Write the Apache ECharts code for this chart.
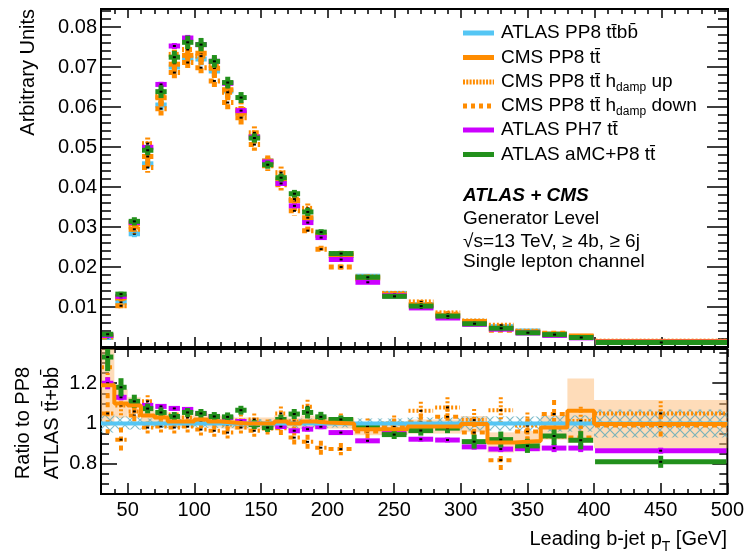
<!DOCTYPE html>
<html><head><meta charset="utf-8">
<script src="https://cdn.jsdelivr.net/npm/echarts@6/dist/echarts.min.js"></script>
<style>html,body{margin:0;padding:0;background:#fff}#c{width:747px;height:557px}</style>
</head><body><div id="c"></div>
<script>
// ---------------- data ----------------
const binEdges = [30,40,50,60,70,80,90,100,110,120,130,140,150,160,170,180,190,200,220,240,260,280,300,320,340,360,380,400,500];
const xTicksMajor = [50,100,150,200,250,300,350,400,450,500];
const yTicksTop = [0.01,0.02,0.03,0.04,0.05,0.06,0.07,0.08];
const yTicksRatio = [0.8,1,1.2];

// upper panel: normalised distributions
const topPP8  = [0.0024,0.0112,0.0283,0.0458,0.0605,0.0700,0.0722,0.0720,0.0690,0.0640,0.0585,0.0525,0.0465,0.0415,0.0366,0.0320,0.0278,0.0229,0.0177,0.0134,0.0106,0.0079,0.0064,0.0051,0.0040,0.0033,0.0026,0.0014];
const topCMS  = [0.00286,0.01232,0.03085,0.04763,0.06232,0.0707,0.07292,0.07344,0.06969,0.06432,0.0585,0.0525,0.0465,0.04192,0.0366,0.03232,0.02794,0.0229,0.0172,0.01302,0.01044,0.00778,0.00638,0.00462,0.00365,0.00323,0.00276,0.0014];
const topUp   = [0.00307,0.01221,0.0300,0.05084,0.06262,0.07315,0.07437,0.07272,0.07038,0.06368,0.05938,0.05355,0.04604,0.04358,0.03697,0.03466,0.02822,0.02336,0.01752,0.0134,0.01127,0.00853,0.00651,0.00544,0.00396,0.00309,0.00263,0.00147];
const topDown = [0.00252,0.0103,0.02943,0.04488,0.05959,0.0686,0.07112,0.06984,0.06652,0.06112,0.05733,0.05061,0.04534,0.04055,0.03404,0.02909,0.02446,0.01999,0.01699,0.0132,0.01065,0.00816,0.00611,0.00417,0.00384,0.00346,0.00242,0.00139];
const topPH7  = [0.00288,0.01266,0.03113,0.04992,0.06564,0.07525,0.07725,0.0756,0.07142,0.06592,0.05909,0.0525,0.04627,0.04088,0.03528,0.0311,0.02736,0.02187,0.01618,0.0128,0.00977,0.00725,0.00566,0.00445,0.0035,0.0029,0.00228,0.00121];
const topAMC  = [0.00319,0.01322,0.03141,0.04919,0.06383,0.07245,0.07617,0.0756,0.07142,0.06611,0.06236,0.05224,0.04557,0.04233,0.03832,0.03376,0.02872,0.02336,0.01743,0.01266,0.01023,0.00772,0.00582,0.00469,0.00356,0.0031,0.00238,0.00113];

// lower panel: ratio to ATLAS PP8 tt+bb
const ratioPP8  = [1,1,1,1,1,1,1,1,1,1,1,1,1,1,1,1,1,1,1,1,1,1,1,1,1,1,1,1];
const ratioCMS  = [1.19,1.10,1.09,1.04,1.03,1.01,1.01,1.02,1.01,1.005,1.0,1.0,1.0,1.01,1.0,1.01,1.005,1.0,0.972,0.972,0.985,0.985,0.997,0.906,0.913,0.98,1.063,0.997];
const ratioUp   = [1.28,1.09,1.06,1.11,1.035,1.045,1.03,1.01,1.02,0.995,1.015,1.02,0.99,1.05,1.01,1.083,1.015,1.02,0.99,1.0,1.063,1.08,1.017,1.066,0.99,0.935,1.013,1.05];
const ratioDown = [1.05,0.92,1.04,0.98,0.985,0.98,0.985,0.97,0.964,0.955,0.98,0.964,0.975,0.977,0.93,0.909,0.88,0.873,0.96,0.985,1.005,1.033,0.955,0.818,0.96,1.047,0.93,0.99];
const ratioPH7  = [1.20,1.13,1.10,1.09,1.085,1.075,1.07,1.05,1.035,1.03,1.01,1.0,0.995,0.985,0.964,0.972,0.984,0.955,0.914,0.955,0.922,0.918,0.884,0.873,0.875,0.878,0.878,0.865];
const ratioAMC  = [1.33,1.18,1.11,1.074,1.055,1.035,1.055,1.05,1.035,1.033,1.066,0.995,0.98,1.02,1.047,1.055,1.033,1.02,0.985,0.945,0.965,0.977,0.91,0.92,0.889,0.938,0.917,0.81];

// uncertainties (ratio units)
const errPP8  = [0.045,0.035,0.03,0.025,0.022,0.022,0.022,0.022,0.022,0.022,0.022,0.022,0.022,0.022,0.022,0.025,0.025,0.02,0.025,0.025,0.03,0.03,0.035,0.035,0.035,0.04,0.04,0.07];
const errCMS  = [0.2,0.07,0.04,0.035,0.03,0.03,0.03,0.03,0.03,0.03,0.03,0.03,0.03,0.03,0.03,0.03,0.03,0.025,0.03,0.03,0.035,0.035,0.04,0.05,0.05,0.06,0.16,0.12];
const errUp   = [0.1,0.06,0.04,0.03,0.03,0.03,0.03,0.03,0.03,0.03,0.03,0.03,0.03,0.035,0.035,0.035,0.035,0.03,0.035,0.04,0.045,0.05,0.055,0.065,0.065,0.07,0.07,0.06];
const errDown = [0.1,0.06,0.04,0.03,0.03,0.03,0.03,0.03,0.03,0.03,0.03,0.03,0.03,0.035,0.035,0.035,0.035,0.03,0.035,0.04,0.045,0.05,0.055,0.065,0.065,0.07,0.07,0.06];
const errPH7  = [0.03,0.015,0.012,0.01,0.01,0.01,0.01,0.01,0.01,0.01,0.01,0.01,0.01,0.01,0.01,0.012,0.012,0.01,0.01,0.012,0.012,0.012,0.014,0.015,0.016,0.02,0.02,0.015];
const errAMC  = [0.07,0.045,0.033,0.025,0.025,0.022,0.022,0.022,0.022,0.022,0.022,0.022,0.022,0.024,0.025,0.03,0.025,0.02,0.022,0.022,0.025,0.025,0.035,0.04,0.035,0.045,0.045,0.03];

const legendNames = ['ATLAS PP8 tt\u0304bb\u0304','CMS PP8 tt\u0304','CMS PP8 tt\u0304 h{sub|damp} up','CMS PP8 tt\u0304 h{sub|damp} down','ATLAS PH7 tt\u0304','ATLAS aMC+P8 tt\u0304'];
const infoLines = ['Generator Level','\u221As=13 TeV, \u2265 4b, \u2265 6j','Single lepton channel'];

// ---------------- styling ----------------
const FONT = "'Liberation Sans', Arial, Helvetica, sans-serif";
const C_BLUE='#55c6f4', C_OR='#ff8c00', C_PU='#cc00ff', C_GR='#22901c';
const DOT=[2,2], DASH=[5,4];

function rowsTop(vals, errs){ return vals.map((v,i)=>[binEdges[i],binEdges[i+1],v,v*errs[i]]); }
function rowsRatio(vals, errs){ return vals.map((v,i)=>[binEdges[i],binEdges[i+1],v,errs[i]]); }
function stepData(vals){ return binEdges.map((e,i)=>[e, vals[Math.min(i, vals.length-1)]]); }

function crossRender(color, width, dash, dot){
  return function(params, api){
    const cs=params.coordSys, top=cs.y, bot=cs.y+cs.height;
    const cl=y=>Math.max(top,Math.min(bot,y));
    const lo=api.value(0), hi=api.value(1), v=api.value(2), e=api.value(3), xm=(lo+hi)/2;
    const a=api.coord([lo,v]), b=api.coord([hi,v]);
    const t=api.coord([xm,v+e]), u=api.coord([xm,v-e]);
    const ch=[];
    if(a[1]>=top && a[1]<=bot){
      ch.push({type:'line',shape:{x1:a[0]+1,y1:a[1],x2:b[0]-1,y2:b[1]},style:{stroke:color,lineWidth:width,lineDash:dash||null,lineCap:'butt'}});
    }
    const y1=cl(t[1]), y2=cl(u[1]);
    if(y2>y1) ch.push({type:'line',shape:{x1:t[0],y1:y1,x2:t[0],y2:y2},style:{stroke:color,lineWidth:width,lineDash:dash||null,lineCap:'butt'}});
    if(dot && a[1]>=top && a[1]<=bot) ch.push({type:'rect',shape:{x:(a[0]+b[0])/2-1.5,y:a[1]-1,width:3,height:2},style:{fill:'#000'}});
    return {type:'group',children:ch};
  };
}
function bandRender(fill){
  return function(params, api){
    const cs=params.coordSys, top=cs.y, bot=cs.y+cs.height;
    const cl=y=>Math.max(top,Math.min(bot,y));
    const lo=api.value(0), hi=api.value(1), v=api.value(2), e=api.value(3);
    const p=api.coord([lo,v+e]), q=api.coord([hi,v-e]);
    const y1=cl(p[1]), y2=cl(q[1]);
    if(y2<=y1) return null;
    return {type:'rect',shape:{x:p[0],y:y1,width:q[0]-p[0],height:y2-y1},style:{fill:fill}};
  };
}

const hatch=document.createElement('canvas'); hatch.width=10; hatch.height=10;
(function(){const g=hatch.getContext('2d'); g.strokeStyle='rgba(80,165,185,0.75)'; g.lineWidth=1.2;
 g.beginPath(); g.moveTo(0,0); g.lineTo(10,10); g.moveTo(10,0); g.lineTo(0,10); g.stroke();})();

function xAx(grid, pos, len, opts){
  return Object.assign({gridIndex:grid,type:'value',min:30,max:500,position:pos,
    axisLine:{show:false,onZero:false},splitLine:{show:false},axisLabel:{show:false},
    axisTick:{show:true,inside:true,length:len,lineStyle:{color:'#000',width:1.5}}},opts);
}
function yAx(grid, pos, min, max, len, opts){
  return Object.assign({gridIndex:grid,type:'value',min:min,max:max,position:pos,
    axisLine:{show:false,onZero:false},splitLine:{show:false},axisLabel:{show:false},
    axisTick:{show:true,inside:true,length:len,lineStyle:{color:'#000',width:1.5}}},opts);
}
function majX(grid,pos,len,label){
  const o=xAx(grid,pos,len,{});
  o.axisTick.customValues=xTicksMajor;
  if(label){ o.axisLabel={show:true,customValues:xTicksMajor,fontSize:20,fontFamily:FONT,color:'#000',margin:6}; }
  return o;
}
function minX(grid,pos,len){ return xAx(grid,pos,len,{interval:10}); }
function majY(grid,pos,min,max,len,ticks,label){
  const o=yAx(grid,pos,min,max,len,{});
  o.axisTick.customValues=ticks;
  if(label){ o.axisLabel={show:true,customValues:ticks,fontSize:20,fontFamily:FONT,color:'#000',margin:4}; }
  return o;
}
function minY(grid,pos,min,max,len,iv){ return yAx(grid,pos,min,max,len,{interval:iv}); }

const TMIN=0, TMAX=0.0845, RMIN=0.65, RMAX=1.37;

const xAxis=[
  majX(0,'bottom',10,false), minX(0,'bottom',5), majX(0,'top',9,false), minX(0,'top',5),
  majX(1,'bottom',11,true), minX(1,'bottom',5), majX(1,'top',8,false), minX(1,'top',4)
];
const yAxis=[
  majY(0,'left',TMIN,TMAX,20,yTicksTop,true), minY(0,'left',TMIN,TMAX,10,0.002),
  majY(0,'right',TMIN,TMAX,21,yTicksTop,false), minY(0,'right',TMIN,TMAX,10,0.002),
  majY(1,'left',RMIN,RMAX,16,yTicksRatio,true), minY(1,'left',RMIN,RMAX,8,0.05),
  majY(1,'right',RMIN,RMAX,15,yTicksRatio,false), minY(1,'right',RMIN,RMAX,8,0.05)
];

function cust(name, xi, yi, data, render){
  return {type:'custom',name:name,xAxisIndex:xi,yAxisIndex:yi,data:data,renderItem:render,silent:true,animation:false};
}
const series=[
  cust('pp8',0,0,rowsTop(topPP8,errPP8),crossRender(C_BLUE,5,null,true)),
  cust('cms',0,0,rowsTop(topCMS,errCMS),crossRender(C_OR,5,null,true)),
  cust('up',0,0,rowsTop(topUp,errUp),crossRender(C_OR,5,DOT,true)),
  cust('down',0,0,rowsTop(topDown,errDown),crossRender(C_OR,5,DASH,true)),
  cust('ph7',0,0,rowsTop(topPH7,errPH7),crossRender(C_PU,5,null,true)),
  cust('amc',0,0,rowsTop(topAMC,errAMC),crossRender(C_GR,5,null,true)),

  cust('cmsBand',4,4,rowsRatio(ratioCMS,errCMS),bandRender('rgba(253,185,115,0.5)')),
  cust('pp8Band',4,4,rowsRatio(ratioPP8,errPP8),bandRender({image:hatch,repeat:'repeat'})),
  {type:'line',xAxisIndex:4,yAxisIndex:4,data:stepData(ratioPP8),step:'end',showSymbol:false,silent:true,animation:false,lineStyle:{color:C_BLUE,width:4}},
  {type:'line',xAxisIndex:4,yAxisIndex:4,data:stepData(ratioCMS),step:'end',showSymbol:false,silent:true,animation:false,lineStyle:{color:C_OR,width:4}},
  cust('downR',4,4,rowsRatio(ratioDown,errDown),crossRender(C_OR,4,DASH,true)),
  cust('upR',4,4,rowsRatio(ratioUp,errUp),crossRender(C_OR,4,DOT,true)),
  cust('ph7R',4,4,rowsRatio(ratioPH7,errPH7),crossRender(C_PU,5,null,true)),
  cust('amcR',4,4,rowsRatio(ratioAMC,errAMC),crossRender(C_GR,5,null,true))
];

// legend + texts as graphics
const legColors=[C_BLUE,C_OR,C_OR,C_OR,C_PU,C_GR];
const legDash=[null,null,[2,1.3],[4,4],null,null];
const legY=[33,57.5,82,106,130,154.5];
const graphic=[];
legendNames.forEach((n,i)=>{
  graphic.push({type:'line',silent:true,shape:{x1:463,y1:legY[i],x2:494,y2:legY[i]},style:{stroke:legColors[i],lineWidth:5,lineDash:legDash[i],lineCap:'butt'}});
  graphic.push({type:'text',silent:true,x:501,y:legY[i],style:{text:n,fontSize:19,fontFamily:FONT,fill:'#000',verticalAlign:'middle',align:'left',lineHeight:24,
    rich:{sub:{fontSize:12,fontFamily:FONT,lineHeight:12,verticalAlign:'bottom',fill:'#000'}}}});
});
graphic.push({type:'text',silent:true,x:463,y:196,style:{text:'ATLAS + CMS',fontSize:19,fontWeight:'bold',fontStyle:'italic',fontFamily:FONT,fill:'#000',verticalAlign:'middle'}});
const infoY=[219,241.5,262];
infoLines.forEach((t,i)=>graphic.push({type:'text',silent:true,x:463,y:infoY[i],style:{text:t,fontSize:19,fontFamily:FONT,fill:'#000',verticalAlign:'middle'}}));
graphic.push({type:'text',silent:true,x:28,y:9,rotation:Math.PI/2,style:{text:'Arbitrary Units',fontSize:20,fontFamily:FONT,fill:'#000',align:'right',verticalAlign:'middle'}});
graphic.push({type:'text',silent:true,x:23,y:423,rotation:Math.PI/2,style:{text:'Ratio to PP8',fontSize:20,fontFamily:FONT,fill:'#000',align:'center',verticalAlign:'middle'}});
graphic.push({type:'text',silent:true,x:52,y:423,rotation:Math.PI/2,style:{text:'ATLAS tt\u0304+bb\u0304',fontSize:20,fontFamily:FONT,fill:'#000',align:'center',verticalAlign:'middle'}});
graphic.push({type:'text',silent:true,x:727,y:539,style:{text:'Leading b-jet p{sub|T} [GeV]',fontSize:20,fontFamily:FONT,fill:'#000',align:'right',verticalAlign:'middle',lineHeight:30,
  rich:{sub:{fontSize:14,fontFamily:FONT,lineHeight:14,verticalAlign:'bottom',fill:'#000'}}}});

const chart=echarts.init(document.getElementById('c'),null,{renderer:'canvas'});
chart.setOption({
  animation:false,
  backgroundColor:'#fff',
  grid:[
    {left:101,top:9,width:627,height:338,show:true,borderColor:'#000',borderWidth:2,backgroundColor:'rgba(0,0,0,0)'},
    {left:101,top:349,width:627,height:145,show:true,borderColor:'#000',borderWidth:2,backgroundColor:'rgba(0,0,0,0)'}
  ],
  xAxis:xAxis, yAxis:yAxis, series:series, graphic:graphic
});
</script></body></html>
